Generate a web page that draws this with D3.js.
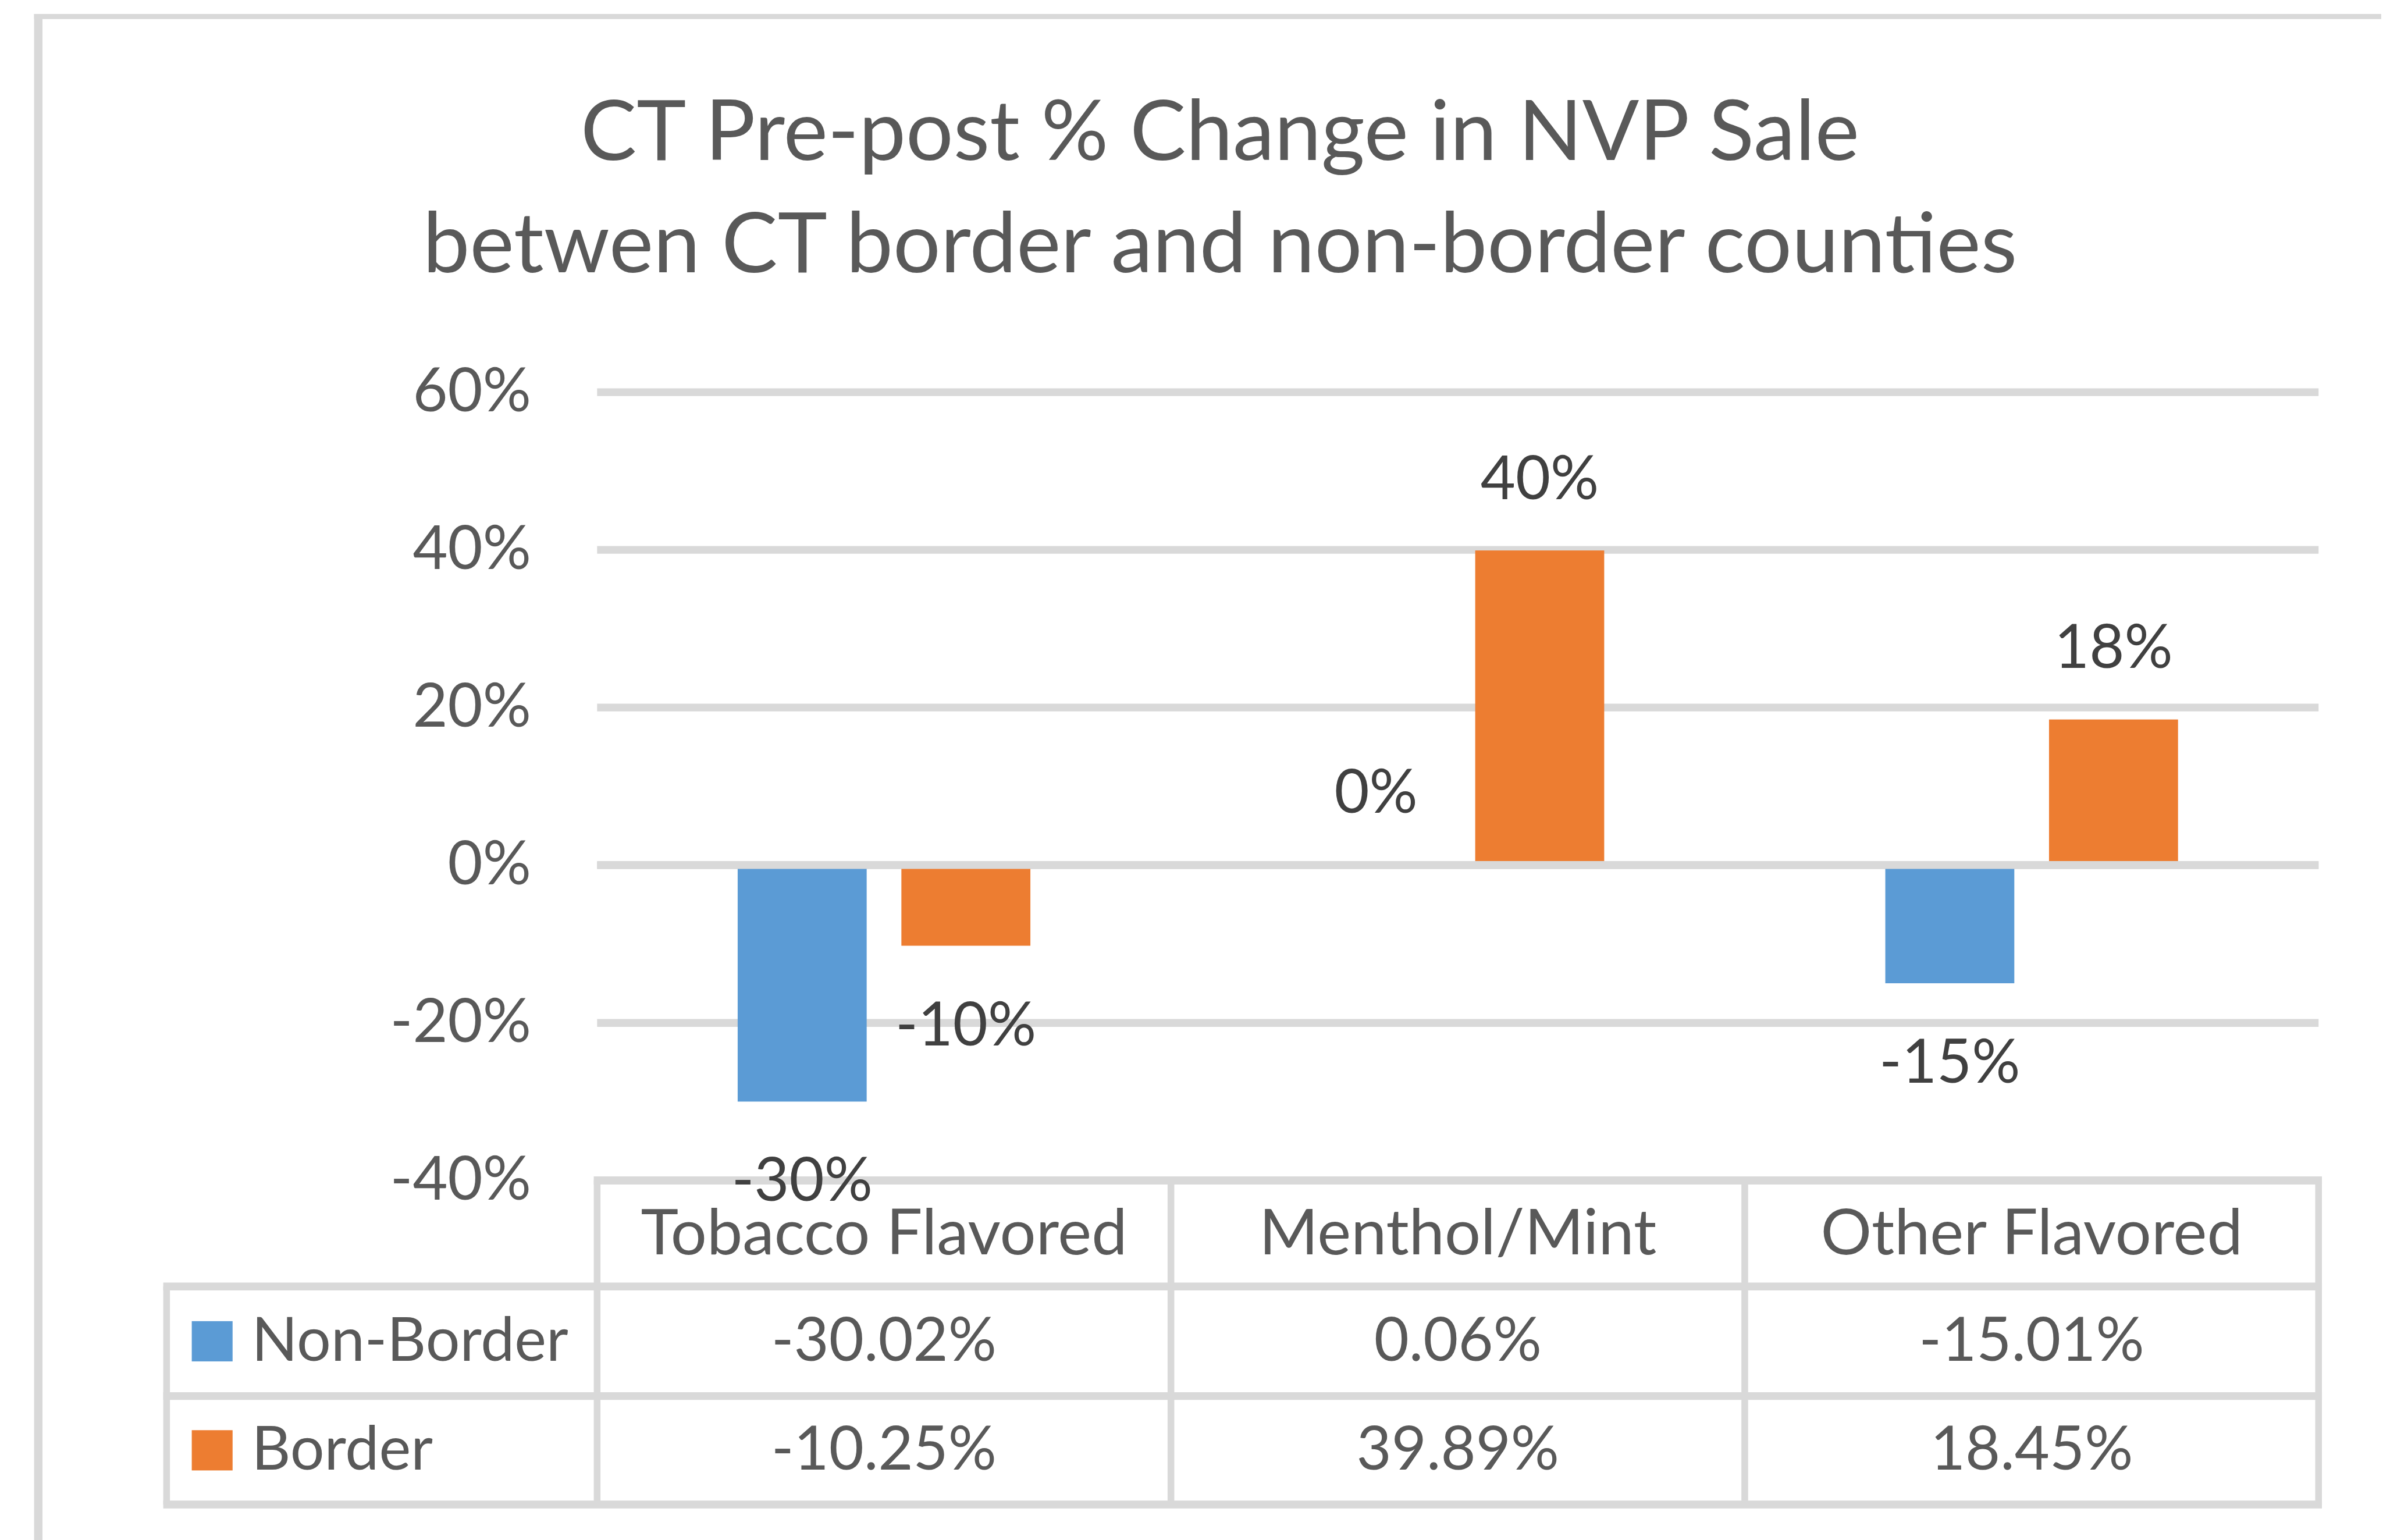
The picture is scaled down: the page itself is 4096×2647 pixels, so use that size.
<!DOCTYPE html>
<html>
<head>
<meta charset="utf-8">
<script src="https://cdn.jsdelivr.net/npm/d3@7"></script>
<style>
  html, body { margin: 0; padding: 0; background: #fff; }
  svg { display: block; }
  text { font-family: Lato, "Noto Sans", sans-serif; }
</style>
</head>
<body>
<svg id="chart" width="4096" height="2647"></svg>
<script>
// data
const categories = ["Tobacco Flavored", "Menthol/Mint", "Other Flavored"];
const seriesNames = ["Non-Border", "Border"];
const nonBorder = [-30.02, 0.06, -15.01];
const border = [-10.25, 39.89, 18.45];
const yTicks = [-40, -20, 0, 20, 40, 60];
const titleLines = ["CT Pre-post % Change in NVP Sale", "betwen CT border and non-border counties"];
const seriesColors = ["#5B9BD5", "#ED7D31"];

const seriesValues = [nonBorder, border];

// hyphen instead of the unicode minus
const loc = d3.formatLocale({decimal: ".", thousands: ",", grouping: [3], currency: ["$", ""], minus: "-"});
const fmtInt = v => loc.format(".0f")(v) + "%";
const fmtTable = v => loc.format(".2f")(v) + "%";

const gridColor = "#d9d9d9";
const textColor = "#595959";
const labelColor = "#404040";
const fontSize = 108;

const svg = d3.select("#chart");
const root = svg.append("g").attr("transform", "scale(0.961)");

// outer frame (cropped at right and bottom)
root.append("line").attr("x1", 61).attr("x2", 4259).attr("y1", 29.5).attr("y2", 29.5)
    .attr("stroke", gridColor).attr("stroke-width", 9);
root.append("line").attr("x1", 68.5).attr("x2", 68.5).attr("y1", 25).attr("y2", 2760)
    .attr("stroke", gridColor).attr("stroke-width", 15);

// title
root.append("text")
    .attr("x", 2182).attr("y", 286)
    .attr("text-anchor", "middle")
    .attr("font-size", 150).attr("fill", textColor)
    .text(titleLines[0]);
root.append("text")
    .attr("x", 2182).attr("y", 487)
    .attr("text-anchor", "middle")
    .attr("font-size", 150).attr("fill", textColor)
    .text(titleLines[1]);

// scales
const plotLeft = 1068, plotRight = 4147;
const y = d3.scaleLinear().domain([-40, 60]).range([2111, 701]);
const x0 = d3.scaleBand().domain(categories).range([plotLeft, plotRight]);
const x1 = d3.scaleBand().domain(seriesNames).range([0, x0.bandwidth()])
    .paddingInner(0.212).paddingOuter(0.8585);

// y axis with gridlines
const yAxis = root.append("g")
    .attr("transform", "translate(" + plotLeft + ",0)")
    .call(d3.axisLeft(y).tickValues(yTicks).tickFormat(fmtInt)
        .tickSize(-(plotRight - plotLeft)).tickPadding(118));
yAxis.select(".domain").remove();
yAxis.selectAll(".tick line").attr("stroke", gridColor).attr("stroke-width", 14);
yAxis.selectAll(".tick text").attr("fill", textColor).attr("font-size", fontSize)
    .attr("font-family", "Lato, 'Noto Sans', sans-serif");

// bars
const barData = [];
seriesNames.forEach((s, i) => {
    categories.forEach((c, j) => {
        barData.push({series: s, cat: c, value: seriesValues[i][j], color: seriesColors[i]});
    });
});

root.append("g").selectAll("rect")
    .data(barData)
    .enter()
    .append("rect")
    .attr("x", d => x0(d.cat) + x1(d.series))
    .attr("width", x1.bandwidth())
    .attr("y", d => y(Math.max(0, d.value)))
    .attr("height", d => Math.abs(y(d.value) - y(0)))
    .attr("fill", d => d.color);

// zero line drawn above the bars
root.append("line")
    .attr("x1", plotLeft).attr("x2", plotRight)
    .attr("y1", y(0)).attr("y2", y(0))
    .attr("stroke", gridColor).attr("stroke-width", 14);

// data table under the plot
const tableLeft = 298;
const rowLines = [2111, 2301, 2497, 2691];
const table = root.append("g");

// horizontal lines
rowLines.forEach((ry, i) => {
    table.append("line")
        .attr("x1", i === 0 ? plotLeft - 6 : tableLeft - 6).attr("x2", plotRight + 6)
        .attr("y1", ry).attr("y2", ry)
        .attr("stroke", gridColor).attr("stroke-width", 14);
});
// vertical lines
const colLines = categories.map(c => x0(c)).concat([plotRight]);
colLines.forEach(cx => {
    table.append("line")
        .attr("x1", cx).attr("x2", cx)
        .attr("y1", rowLines[0]).attr("y2", rowLines[3])
        .attr("stroke", gridColor).attr("stroke-width", 12);
});
table.append("line")
    .attr("x1", tableLeft).attr("x2", tableLeft)
    .attr("y1", rowLines[1]).attr("y2", rowLines[3])
    .attr("stroke", gridColor).attr("stroke-width", 12);

// category header
table.selectAll("text.cat")
    .data(categories)
    .enter()
    .append("text")
    .attr("class", "cat")
    .attr("x", d => x0(d) + x0.bandwidth() / 2)
    .attr("y", (rowLines[0] + rowLines[1]) / 2 + 37)
    .attr("text-anchor", "middle")
    .attr("font-size", 114).attr("fill", textColor)
    .text(d => d);

// series rows
seriesNames.forEach((s, i) => {
    const mid = (rowLines[i + 1] + rowLines[i + 2]) / 2;
    table.append("rect")
        .attr("x", 343).attr("y", mid - 36)
        .attr("width", 73).attr("height", 72)
        .attr("fill", seriesColors[i]);
    table.append("text")
        .attr("x", 450).attr("y", mid + 35)
        .attr("font-size", fontSize).attr("fill", textColor)
        .text(s);
    table.selectAll("text.v" + i)
        .data(seriesValues[i])
        .enter()
        .append("text")
        .attr("class", "v" + i)
        .attr("x", (d, j) => x0(categories[j]) + x0.bandwidth() / 2)
        .attr("y", mid + 35)
        .attr("text-anchor", "middle")
        .attr("font-size", fontSize).attr("fill", textColor)
        .text(d => fmtTable(d));
});

// data labels (on top, the -30% one sits on the table edge)
root.append("g").selectAll("text")
    .data(barData)
    .enter()
    .append("text")
    .attr("x", d => x0(d.cat) + x1(d.series) + x1.bandwidth() / 2)
    .attr("y", d => d.value >= 0 ? y(d.value) - 92 : y(d.value) + 178)
    .attr("text-anchor", "middle")
    .attr("font-size", fontSize).attr("fill", labelColor)
    .text(d => fmtInt(d.value));
</script>
</body>
</html>
